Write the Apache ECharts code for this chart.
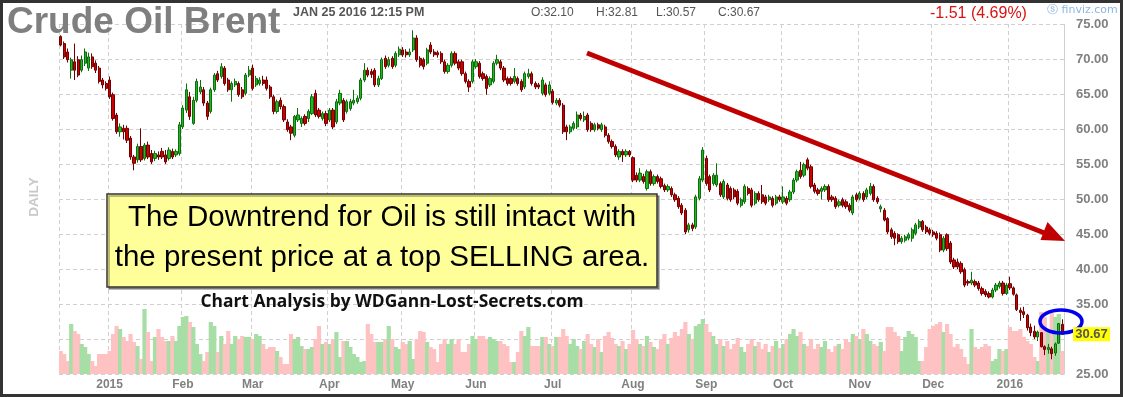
<!DOCTYPE html>
<html>
<head>
<meta charset="utf-8">
<script src="https://cdn.jsdelivr.net/npm/echarts@6/dist/echarts.min.js"></script>
<style>html,body{margin:0;padding:0;background:#fff}#c{width:1123px;height:397px}</style>
</head>
<body>
<div id="c"></div>
<script>
// ---- data ----
const monthLabels = ['2015','Feb','Mar','Apr','May','Jun','Jul','Aug','Sep','Oct','Nov','Dec','2016'];
const holidays = ['2014-12-25','2015-01-01','2015-04-03','2015-12-25','2016-01-01'];
const yTicks = [25,30,35,40,45,50,55,60,65,70,75];
// [open, high, low, close]
const ohlc = [
[73.2,73.4,71.8,72.0],[72.2,72.5,70.0,70.3],[71.0,71.5,69.5,69.9],[68.4,70.2,67.2,69.9],[69.6,72.2,67.0,68.4],
[69.9,70.4,67.4,67.7],[68.4,70.5,68.1,69.9],[69.4,71.5,69.0,71.0],[68.7,70.9,68.3,70.3],[70.3,70.8,68.6,68.9],
[69.4,69.8,68.0,68.4],[68.7,69.0,66.5,66.8],[67.0,67.3,65.8,66.3],[66.5,66.8,65.5,65.8],[67.0,67.5,64.3,64.6],
[64.9,65.2,61.2,61.5],[62.0,62.3,59.3,59.6],[59.6,60.8,58.9,60.3],[60.1,60.6,58.5,59.6],[60.1,60.5,58.0,58.4],
[58.7,59.0,55.6,56.0],[56.0,56.3,54.1,55.1],[55.6,57.9,55.2,57.5],[57.5,60.1,55.3,55.6],[55.8,58.0,55.5,57.7],
[57.7,58.2,55.7,56.0],[56.5,57.0,55.0,55.3],[55.8,56.9,55.4,56.5],[56.3,56.8,55.6,56.0],[56.8,57.3,55.7,56.0],
[56.3,57.0,55.0,55.3],[55.8,57.4,55.5,57.0],[56.8,57.2,55.7,56.0],[56.3,57.1,56.0,56.8],[56.5,61.0,56.2,60.6],
[60.3,63.4,60.0,63.0],[62.7,66.5,62.3,65.6],[64.6,65.3,61.3,61.8],[60.8,64.6,60.6,64.1],[64.1,67.2,63.8,66.8],
[65.3,67.0,65.0,66.0],[65.6,66.0,63.3,63.7],[63.7,64.0,61.3,61.8],[62.5,65.9,62.2,65.6],[65.6,68.0,65.3,67.7],
[67.9,68.3,66.7,67.0],[67.5,69.4,67.2,68.9],[68.7,69.0,66.2,66.5],[67.0,67.3,65.3,65.6],[65.6,66.8,63.9,66.5],
[66.3,67.2,66.0,66.8],[66.5,66.8,64.6,64.9],[65.6,66.0,64.3,64.6],[65.1,68.0,64.8,67.7],[67.7,69.0,67.4,68.4],
[68.7,69.2,65.5,65.8],[66.3,67.6,66.0,67.2],[66.5,67.4,66.2,67.0],[67.0,67.6,66.2,66.5],[67.0,67.5,65.5,65.8],
[66.0,66.3,64.3,64.6],[64.6,64.9,62.1,62.5],[62.5,64.2,62.2,63.9],[64.1,64.5,62.8,63.2],[63.2,63.5,61.0,61.3],
[61.0,61.4,59.6,59.9],[60.3,60.6,58.4,59.4],[59.1,62.0,58.8,61.8],[61.3,63.0,61.0,62.0],[60.8,61.8,60.3,61.5],
[61.8,62.1,60.5,60.8],[61.5,62.8,61.0,62.5],[62.2,65.0,62.0,64.6],[65.1,65.6,61.7,62.0],[62.7,63.0,61.5,61.8],
[61.5,62.5,61.2,62.2],[62.2,62.6,60.4,60.8],[61.3,63.0,61.0,62.7],[62.7,63.0,60.0,60.3],[61.0,64.3,60.7,63.9],
[63.7,65.6,63.4,65.1],[64.1,64.4,61.0,61.3],[62.5,64.2,62.2,63.9],[62.9,64.3,62.6,63.9],[63.7,65.6,63.4,64.1],
[63.9,64.8,63.6,64.4],[64.4,67.3,64.1,67.0],[67.0,69.4,66.7,68.4],[68.4,68.8,67.4,67.7],[68.2,68.6,67.3,67.8],
[68.4,68.7,66.0,66.3],[66.3,67.6,66.0,67.2],[67.2,70.2,67.0,69.9],[70.1,70.5,68.6,68.9],[69.1,70.3,68.8,69.9],
[70.1,70.4,68.6,68.9],[69.1,71.1,68.8,70.8],[70.6,71.8,70.3,71.4],[71.3,71.7,70.3,70.6],[71.0,71.4,70.2,70.6],
[70.6,71.5,70.3,71.0],[71.3,74.1,71.0,73.0],[73.0,73.4,69.6,69.9],[70.1,70.4,68.8,69.1],[69.9,70.2,68.5,68.9],
[69.4,71.6,69.1,71.3],[72.0,72.4,70.7,71.0],[71.0,71.4,70.3,70.6],[70.9,71.2,70.2,70.6],[70.8,71.1,69.3,69.6],
[69.6,69.9,67.9,68.2],[68.2,69.4,67.9,69.1],[69.1,71.1,68.8,70.8],[70.8,71.1,69.1,69.4],[69.6,69.9,68.4,68.7],
[69.6,69.9,67.6,67.9],[67.9,68.2,66.5,66.8],[66.8,67.1,65.3,66.0],[66.8,69.9,66.5,69.6],[68.9,70.0,68.6,69.6],
[69.4,69.7,67.2,67.5],[67.9,68.2,66.9,67.2],[67.5,67.8,64.9,65.8],[66.3,67.5,66.0,67.2],[66.8,69.7,66.5,69.4],
[69.4,70.6,69.1,69.9],[69.6,69.9,68.4,68.7],[68.7,69.0,66.7,67.0],[67.2,67.5,66.2,66.5],[67.2,67.5,66.2,66.5],
[66.8,68.7,66.5,67.5],[67.2,67.5,66.2,66.5],[66.8,67.1,65.3,65.6],[66.0,68.2,65.7,67.9],[67.5,68.6,67.2,67.9],
[67.9,68.2,66.2,66.5],[66.5,66.8,65.7,66.0],[66.3,66.6,65.7,66.0],[65.1,67.4,64.8,67.0],[66.3,66.6,64.6,64.9],
[65.1,66.8,64.8,66.3],[65.4,65.7,63.5,63.8],[63.7,64.4,63.4,64.1],[64.1,64.4,63.1,63.4],[63.4,63.7,59.3,59.6],
[60.3,60.6,58.4,59.6],[59.6,60.6,59.3,60.3],[60.1,61.1,59.8,60.8],[60.3,62.5,60.0,62.0],[62.0,62.3,61.2,61.5],
[61.3,62.5,61.0,61.8],[62.0,62.3,59.6,59.9],[60.8,61.1,59.6,59.9],[59.9,60.9,59.6,60.6],[60.6,60.9,59.8,60.1],
[59.9,60.9,59.6,60.6],[60.3,60.6,58.8,59.1],[59.1,59.4,57.9,58.2],[58.2,58.5,57.2,57.5],[57.5,57.8,56.0,56.3],
[56.0,57.1,55.6,56.8],[56.8,57.1,55.3,56.3],[56.3,57.1,56.0,56.8],[56.8,57.0,56.0,56.3],[55.9,56.1,52.4,52.7],
[53.4,53.8,52.4,52.7],[52.7,54.4,52.4,53.7],[53.2,53.6,52.2,52.5],[51.5,54.2,51.2,53.9],[53.9,54.2,51.9,52.2],
[52.2,53.5,51.9,53.2],[53.2,53.5,52.2,52.5],[52.9,53.2,51.5,51.8],[51.9,52.2,51.0,51.3],[51.3,52.1,51.0,51.8],
[51.5,51.8,50.3,50.6],[50.6,50.9,49.6,49.9],[50.1,50.4,48.6,48.9],[49.1,49.4,47.7,48.0],[48.4,48.7,45.0,45.3],
[45.6,46.6,45.2,46.3],[46.3,46.6,45.4,45.8],[46.0,50.6,45.7,50.3],[50.1,53.3,49.8,52.9],[52.7,57.4,52.4,57.0],
[55.8,56.2,51.9,52.2],[53.2,53.5,51.0,51.3],[52.2,53.7,51.9,53.4],[52.0,55.1,51.7,53.4],[52.2,52.5,50.3,50.6],
[50.3,52.8,50.0,52.5],[52.0,52.3,49.8,50.1],[51.5,51.8,49.6,49.9],[51.3,51.6,50.0,50.3],[51.1,51.4,49.1,49.4],
[49.1,50.2,48.8,49.9],[49.6,52.1,49.3,51.8],[51.5,51.8,50.5,50.8],[51.3,51.6,48.8,49.1],[49.4,51.1,49.1,50.8],
[50.8,51.1,49.6,49.9],[50.6,52.0,49.3,49.6],[50.3,50.6,49.1,49.4],[49.9,50.6,49.6,50.3],[50.1,50.4,48.8,49.1],
[49.4,50.6,49.1,50.3],[50.3,50.6,49.6,49.9],[49.6,51.8,49.3,50.3],[50.1,50.4,49.1,49.4],[49.9,51.3,49.6,51.0],
[51.0,53.0,50.7,52.7],[52.7,54.2,52.4,53.9],[54.1,55.3,52.9,53.2],[53.4,55.2,53.1,54.9],[55.6,55.9,54.1,54.4],
[54.6,54.9,51.5,51.8],[52.0,52.3,50.8,51.1],[51.3,51.6,50.5,50.8],[51.1,51.8,49.9,51.5],[51.3,52.1,51.0,51.8],
[51.8,52.1,49.6,49.9],[50.3,50.6,49.6,49.9],[50.1,50.4,48.6,48.9],[49.1,49.9,48.8,49.6],[49.9,50.2,48.8,49.1],
[49.6,49.9,48.6,48.9],[49.1,49.4,48.1,48.4],[48.0,50.6,47.7,50.3],[50.6,50.9,49.6,49.9],[50.1,51.1,49.8,50.8],
[50.8,51.1,49.6,49.9],[50.3,51.6,50.0,51.3],[50.8,52.3,50.5,51.8],[51.8,52.1,49.6,49.9],[50.1,50.4,49.3,49.6],
[48.6,49.2,48.1,48.9],[48.4,48.7,46.8,47.0],[47.2,47.4,45.0,45.3],[45.6,45.9,44.3,44.6],[45.1,45.4,43.4,44.4],
[44.9,45.1,43.6,43.9],[43.9,44.7,43.6,44.4],[44.1,44.9,43.8,44.6],[44.4,45.2,44.1,44.9],[44.4,45.9,43.9,45.6],
[45.1,46.6,44.8,46.3],[46.0,47.1,45.7,46.8],[46.8,47.0,45.3,45.6],[46.0,46.3,45.0,45.3],[45.6,45.9,44.8,45.1],
[45.3,45.6,44.6,44.9],[45.1,45.4,44.1,44.4],[44.9,45.2,42.4,42.7],[42.7,44.7,42.4,44.4],[44.9,45.1,42.6,42.9],
[43.7,44.0,40.7,41.0],[41.3,41.6,40.0,40.3],[41.0,41.5,40.0,40.3],[40.8,41.1,39.3,39.6],[39.9,40.2,37.4,37.7],
[38.2,38.5,37.6,38.0],[38.0,39.6,37.7,38.4],[38.2,38.5,37.4,37.7],[38.0,38.3,36.9,37.2],[37.2,37.5,36.2,36.5],
[36.8,37.1,36.0,36.3],[36.5,36.8,35.8,36.0],[36.0,37.3,35.8,37.0],[37.0,38.0,36.7,37.7],[37.5,38.3,37.2,38.0],
[38.0,38.3,36.2,36.5],[36.5,38.0,36.3,37.7],[37.9,38.9,37.0,37.3],[37.3,37.5,36.2,36.4],[36.3,36.5,34.0,34.2],
[34.1,34.5,32.6,33.8],[33.9,34.6,33.0,33.5],[33.4,33.6,31.2,31.6],[31.7,32.2,30.4,30.9],[31.1,31.9,30.0,30.3],
[30.3,31.2,29.7,31.0],[30.9,31.0,28.8,28.9],[28.9,29.1,27.7,28.5],[28.5,29.3,27.9,28.8],[28.6,28.9,27.1,27.9],
[28.0,29.5,27.6,29.3],[29.4,32.3,29.3,32.2],[32.10,32.81,30.57,30.67]
];
const volume = [
23,20,13,50,43,40,30,27,20,13, 8,20,20,20,23,40,48,45,37,33, 40,32,28,15,65,42,13,37,45,37,
33,33,38,33,48,57,58,52,47,30, 20,13,22,52,48,22,38,30,43,30, 38,35,38,37,37,35,40,38,30,25,
27,27,23,17,10,10,40,35,37,28, 25,25,27,35,48,30,32,30,35,42, 17,33,33,27,20,17,12,13,50,40,
32,32,32,35,48,35,27,25,32,30, 33,15,35,43,42,32,27,25,12,30, 35,30,35,30,35,22,22,30,38,35,
38,38,35,37,35,33,33,30,28,12, 12,22,43,38,47,28,28,28,37,37, 30,28,37,37,
45,38,30,35,28,25,33,40,30,27,35,22,38,42,36,30,28,33,25,30,
44,35,30,28,38,32,27,25,35,40,30,36,42,38,45,52,40,35,48,50,55,
50,42,38,30,35,28,33,25,30,36,27,22,30,35,28,32,25,30,22,28,33,26,
30,35,40,45,38,42,30,28,35,25,30,27,33,25,22,28,30,25,35,32,40,38,
35,45,40,33,30,28,
32,23,47,47,42,38,23,37,43,40, 37,13,13,27,45,48,50,52,42,50, 40,27,30,25,17,10,45,27,25,27,
30,28,13,15,25,23,25,47,43,43, 45,37,33,30,17,13,62,57,43,62, 57,60,23
];
const header = {date:'JAN 25 2016 12:15 PM', o:'O:32.10', h:'H:32.81', l:'L:30.57', c:'C:30.67', chg:'-1.51 (4.69%)'};

// ---- trading-day categories ----
const dates = [];
for (let t = Date.UTC(2014,11,11); t <= Date.UTC(2016,0,25); t += 86400000) {
  const d = new Date(t), wd = d.getUTCDay();
  if (wd === 0 || wd === 6) continue;
  const s = d.toISOString().slice(0,10);
  if (holidays.includes(s)) continue;
  dates.push(s);
}
const labelMap = {};
let m = 0;
for (let i = 1; i < dates.length; i++) {
  if (dates[i].slice(5,7) !== dates[i-1].slice(5,7)) { labelMap[i] = monthLabels[m++]; }
}
const candleData = ohlc.map(r => [r[0], r[3], r[2], r[1]]);
const volData = volume.map((v,i) => ({value:v, itemStyle:{color: ohlc[i] && ohlc[i][3] >= ohlc[i][0] ? '#a6dea6' : '#ffc2c2'}}));

const chart = echarts.init(document.getElementById('c'), null, {renderer:'canvas'});
const L = 59, R = 59, TOP = 24, BOT = 23;
const grid = [
  {left:L, right:R, top:TOP, bottom:BOT},
  {left:L, right:R, top:300, bottom:BOT}
];
const option = {
  animation:false,
  backgroundColor:'#ffffff',
  grid,
  xAxis:[
    {type:'category', gridIndex:0, data:dates, boundaryGap:true,
     axisLine:{show:false}, axisTick:{show:false},
     axisLabel:{interval:(i)=> labelMap[i] !== undefined, formatter:(v,i)=> labelMap[i] || '',
       color:'#808080', fontSize:12, fontWeight:'bold', fontFamily:'Liberation Sans', margin:5},
     splitLine:{show:true, interval:(i)=> i===0 || labelMap[i] !== undefined,
       lineStyle:{color:'#d0d0d0', type:[4,3], width:1}}},
    {type:'category', gridIndex:1, data:dates, boundaryGap:true, show:false}
  ],
  yAxis:[
    {type:'value', gridIndex:0, position:'right', min:25, max:75, interval:5,
     axisLine:{show:true, lineStyle:{color:'#d0d0d0', type:[4,3]}}, axisTick:{show:false},
     axisLabel:{margin:12, color:'#808080', fontSize:13, fontWeight:'bold', fontFamily:'Liberation Sans',
       formatter:(v)=> (yTicks.includes(v) && v !== 30) ? v.toFixed(2) : ''},
     splitLine:{show:true, lineStyle:{color:'#d0d0d0', type:[4,3], width:1}}},
    {type:'value', gridIndex:1, min:0, max:74, show:false, splitLine:{show:false}}
  ],
  series:[
    {type:'bar', xAxisIndex:1, yAxisIndex:1, data:volData, barWidth:4.2, z:1, silent:true},
    {type:'candlestick', xAxisIndex:0, yAxisIndex:0, data:candleData, barWidth:2.7, z:3,
     itemStyle:{color:'#22b622', color0:'#cc0000', borderColor:'#0c6e0c', borderColor0:'#700000', borderWidth:1}}
  ]
};
chart.setOption(option);

const lastClose = ohlc[ohlc.length-1][3];
const yLast = chart.convertToPixel({yAxisIndex:0}, lastClose);
const F = '"Liberation Sans", Arial, sans-serif';
const g = [
  {type:'rect', shape:{x:1.5,y:1.5,width:1120,height:394}, style:{fill:'none', stroke:'#333', lineWidth:3}, z:200},
  {type:'text', x:7, y:23, style:{text:'Crude Oil Brent', font:'bold 37px '+F, fill:'#7f7f7f', verticalAlign:'middle'}, z:100},
  {type:'text', x:293, y:13, style:{text:header.date, font:'bold 12.5px '+F, fill:'#555', verticalAlign:'middle'}, z:100},
  {type:'text', x:531, y:13, style:{text:header.o, font:'12px '+F, fill:'#555', verticalAlign:'middle'}, z:100},
  {type:'text', x:596, y:13, style:{text:header.h, font:'12px '+F, fill:'#555', verticalAlign:'middle'}, z:100},
  {type:'text', x:656, y:13, style:{text:header.l, font:'12px '+F, fill:'#555', verticalAlign:'middle'}, z:100},
  {type:'text', x:718, y:13, style:{text:header.c, font:'12px '+F, fill:'#555', verticalAlign:'middle'}, z:100},
  {type:'text', x:930, y:14, style:{text:header.chg, font:'16px '+F, fill:'#dd1111', verticalAlign:'middle'}, z:100},
  {type:'text', x:1047, y:10, style:{text:'ⓢ finviz.com', font:'11px "DejaVu Sans", sans-serif', fill:'#8db6e3', verticalAlign:'middle'}, z:100},
  {type:'text', x:34, y:197, rotation:Math.PI/2, style:{text:'DAILY', font:'bold 13.5px '+F, fill:'#c8c8c8', align:'center', verticalAlign:'middle'}, z:100},
  {type:'rect', shape:{x:107,y:194,width:550,height:93}, style:{fill:'#ffff99', stroke:'#333', lineWidth:1.5, shadowColor:'rgba(0,0,0,0.35)', shadowOffsetX:2, shadowOffsetY:2}, z:100},
  {type:'text', x:382, y:218, style:{text:'The Downtrend for Oil is still intact with', font:'29.5px '+F, fill:'#000', align:'center', verticalAlign:'middle'}, z:101},
  {type:'text', x:382, y:258, style:{text:'the present price at a top SELLING area.', font:'29.5px '+F, fill:'#000', align:'center', verticalAlign:'middle'}, z:101},
  {type:'text', x:392, y:302, style:{text:'Chart Analysis by WDGann-Lost-Secrets.com', font:'bold 17.4px "Open Sans", sans-serif', fill:'#111', align:'center', verticalAlign:'middle'}, z:101},
  {type:'line', shape:{x1:587,y1:53,x2:1047,y2:234}, style:{stroke:'#c00000', lineWidth:5}, z:100},
  {type:'polygon', shape:{points:[[1065,241],[1040.5,240],[1047.5,222]]}, style:{fill:'#c00000'}, z:100},
  {type:'ellipse', shape:{cx:1061, cy:321.5, rx:21, ry:11.5}, style:{fill:'none', stroke:'#0000ee', lineWidth:3.5}, z:100},
  {type:'rect', shape:{x:1073,y:yLast-7,width:37,height:14}, style:{fill:'#ffff00'}, z:100},
  {type:'text', x:1091.5, y:yLast, style:{text:lastClose.toFixed(2), font:'bold 13px '+F, fill:'#555', align:'center', verticalAlign:'middle'}, z:101}
];
chart.setOption({graphic:g});
</script>
</body>
</html>
